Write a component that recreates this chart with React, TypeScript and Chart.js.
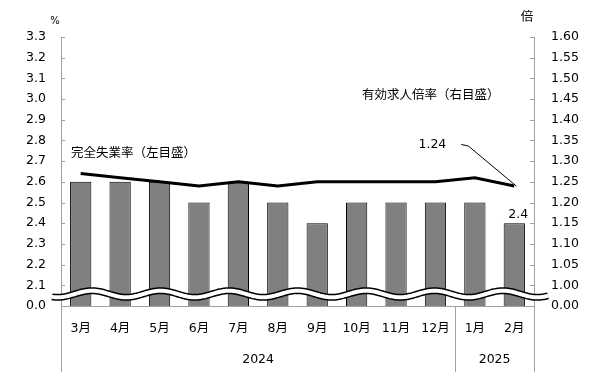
import React, { useEffect, useRef } from 'react';
import { Chart, registerables } from 'chart.js';

Chart.register(...registerables);

const months = ['3月', '4月', '5月', '6月', '7月', '8月', '9月', '10月', '11月', '12月', '1月', '2月'];
const yearGroups = [
  { label: '2024', from: 0, to: 9 },
  { label: '2025', from: 10, to: 11 },
];
const unemployment = [2.6, 2.6, 2.6, 2.5, 2.6, 2.5, 2.4, 2.5, 2.5, 2.5, 2.5, 2.4];
const jobRatio = [1.27, 1.26, 1.25, 1.24, 1.25, 1.24, 1.25, 1.25, 1.25, 1.25, 1.26, 1.24];

const leftTickValues = [2.0, 2.1, 2.2, 2.3, 2.4, 2.5, 2.6, 2.7, 2.8, 2.9, 3.0, 3.1, 3.2, 3.3];
const leftTickLabels = ['0.0', '2.1', '2.2', '2.3', '2.4', '2.5', '2.6', '2.7', '2.8', '2.9', '3.0', '3.1', '3.2', '3.3'];
const rightTickValues = [0.95, 1.0, 1.05, 1.1, 1.15, 1.2, 1.25, 1.3, 1.35, 1.4, 1.45, 1.5, 1.55, 1.6];
const rightTickLabels = ['0.00', '1.00', '1.05', '1.10', '1.15', '1.20', '1.25', '1.30', '1.35', '1.40', '1.45', '1.50', '1.55', '1.60'];

const unemploymentLabel = '完全失業率（左目盛）';
const ratioLabel = '有効求人倍率（右目盛）';
const lastBarLabel = '2.4';
const lastLineLabel = '1.24';

const FONT = "'DejaVu Sans', 'Noto Sans CJK JP', sans-serif";
const AXIS = '#a0a0a0';

function line(ctx: CanvasRenderingContext2D, x1: number, y1: number, x2: number, y2: number) {
  ctx.beginPath();
  ctx.moveTo(x1, y1);
  ctx.lineTo(x2, y2);
  ctx.stroke();
}

const decor = {
  id: 'decor',
  beforeDatasetsDraw(chart: any) {
    const { ctx, chartArea, scales } = chart;
    const { left, right } = chartArea;
    ctx.save();
    ctx.strokeStyle = AXIS;
    ctx.lineWidth = 1;
    scales.y.ticks.forEach((t: any) => {
      const py = Math.round(scales.y.getPixelForValue(t.value)) + 0.5;
      line(ctx, left, py, left + 4, py);
    });
    scales.y1.ticks.forEach((t: any) => {
      const py = Math.round(scales.y1.getPixelForValue(t.value)) + 0.5;
      line(ctx, right - 4, py, right, py);
    });
    ctx.restore();
  },
  afterDatasetsDraw(chart: any) {
    const { ctx, chartArea } = chart;
    const { left, right, bottom } = chartArea;
    const mid = bottom - 12;
    const amp = 3.3;
    const period = 68.5;
    const x0 = left - 9;
    const x1 = right + 14;
    const path = () => {
      ctx.beginPath();
      for (let x = x0; x <= x1; x += 1) {
        const y = mid - amp * Math.cos((2 * Math.PI * (x - (left + 31))) / period);
        if (x === x0) ctx.moveTo(x, y);
        else ctx.lineTo(x, y);
      }
    };
    ctx.save();
    ctx.lineCap = 'butt';
    path();
    ctx.strokeStyle = '#000';
    ctx.lineWidth = 7;
    ctx.stroke();
    path();
    ctx.strokeStyle = '#fff';
    ctx.lineWidth = 4;
    ctx.stroke();
    ctx.restore();
  },
  afterDraw(chart: any) {
    const { ctx, chartArea, scales } = chart;
    const { left, right, top, bottom } = chartArea;
    const xs = scales.x;
    const lineBottom = 372;
    ctx.save();
    // group separators
    ctx.strokeStyle = AXIS;
    ctx.lineWidth = 1;
    const boundaries: number[] = [left];
    yearGroups.forEach((g, i) => {
      if (i < yearGroups.length - 1) {
        const b = (xs.getPixelForValue(g.to) + xs.getPixelForValue(g.to + 1)) / 2;
        boundaries.push(b);
      }
    });
    boundaries.push(right);
    boundaries.forEach((b) => {
      const px = Math.round(b) + 0.5;
      line(ctx, px, bottom, px, lineBottom);
    });
    // year labels
    ctx.fillStyle = '#000';
    ctx.font = `12.5px ${FONT}`;
    ctx.textAlign = 'center';
    ctx.textBaseline = 'middle';
    yearGroups.forEach((g, i) => {
      const cx = (boundaries[i] + boundaries[i + 1]) / 2;
      ctx.fillText(g.label, cx, 360);
    });
    // unit labels
    ctx.font = `10px ${FONT}`;
    ctx.fillText('%', left - 6, top - 16);
    ctx.font = `12.5px ${FONT}`;
    ctx.fillText('倍', right - 7, top - 19);
    // series labels
    ctx.textAlign = 'left';
    ctx.fillText(unemploymentLabel, left + 10, 154);
    ctx.fillText(ratioLabel, 362, 96);
    // last bar label
    const barMeta = chart.getDatasetMeta(0);
    const lastBar = barMeta.data[barMeta.data.length - 1];
    ctx.textAlign = 'center';
    ctx.fillText(lastBarLabel, lastBar.x + 4, lastBar.y - 8);
    // last line point label with leader
    const lineMeta = chart.getDatasetMeta(1);
    const lastPt = lineMeta.data[lineMeta.data.length - 1];
    const bendX = lastPt.x - 46;
    const bendY = lastPt.y - 40;
    ctx.strokeStyle = '#000';
    ctx.lineWidth = 1;
    ctx.beginPath();
    ctx.moveTo(bendX - 7, bendY - 1.5);
    ctx.lineTo(bendX, bendY);
    ctx.lineTo(lastPt.x + 2, lastPt.y);
    ctx.stroke();
    ctx.textAlign = 'right';
    ctx.fillText(lastLineLabel, bendX - 22, bendY - 1);
    ctx.restore();
  },
};

export default function App() {
  const ref = useRef<HTMLCanvasElement | null>(null);
  useEffect(() => {
    if (!ref.current) return;
    Chart.defaults.color = '#000';
    const chart = new Chart(ref.current, {
      type: 'bar',
      data: {
        labels: months,
        datasets: [
          {
            type: 'bar',
            data: unemployment,
            yAxisID: 'y',
            backgroundColor: '#808080',
            borderColor: '#000',
            borderWidth: 1,
            barPercentage: 0.54,
            categoryPercentage: 1,
            order: 2,
          },
          {
            type: 'line',
            data: jobRatio,
            yAxisID: 'y1',
            borderColor: '#000',
            borderWidth: 3,
            pointRadius: 0,
            tension: 0,
            order: 1,
          } as any,
        ],
      },
      options: {
        animation: false,
        responsive: false,
        devicePixelRatio: 1,
        layout: { padding: { top: 37, left: 0, right: 0, bottom: 0 } },
        plugins: { legend: { display: false }, tooltip: { enabled: false } },
        scales: {
          x: {
            type: 'category',
            offset: true,
            grid: { display: false, drawTicks: false },
            border: { display: true, color: AXIS },
            ticks: { padding: 15, font: { family: FONT, size: 12.5 }, color: '#000', maxRotation: 0, autoSkip: false },
            afterFit: (s: any) => { s.height = 77; },
          },
          y: {
            type: 'linear',
            position: 'left',
            min: leftTickValues[0],
            max: leftTickValues[leftTickValues.length - 1],
            beginAtZero: false,
            grid: { display: false, drawTicks: false },
            border: { display: true, color: AXIS },
            afterBuildTicks: (s: any) => { s.ticks = leftTickValues.map((v) => ({ value: v })); },
            ticks: {
              padding: 15,
              font: { family: FONT, size: 12.5 },
              color: '#000',
              callback: (_v: any, i: number) => leftTickLabels[i],
            },
            afterFit: (s: any) => { s.width = 61; },
          },
          y1: {
            type: 'linear',
            position: 'right',
            min: rightTickValues[0],
            max: rightTickValues[rightTickValues.length - 1],
            beginAtZero: false,
            grid: { display: false, drawTicks: false },
            border: { display: true, color: AXIS },
            afterBuildTicks: (s: any) => { s.ticks = rightTickValues.map((v) => ({ value: v })); },
            ticks: {
              padding: 17,
              font: { family: FONT, size: 12.5 },
              color: '#000',
              callback: (_v: any, i: number) => rightTickLabels[i],
            },
            afterFit: (s: any) => { s.width = 71; },
          },
        },
      } as any,
      plugins: [decor],
    });
    return () => chart.destroy();
  }, []);
  return (
    <div style={{ position: 'fixed', left: 0, top: 0, width: 605, height: 383, background: '#fff' }}>
      <canvas ref={ref} width={605} height={383} style={{ display: 'block' }} />
    </div>
  );
}
